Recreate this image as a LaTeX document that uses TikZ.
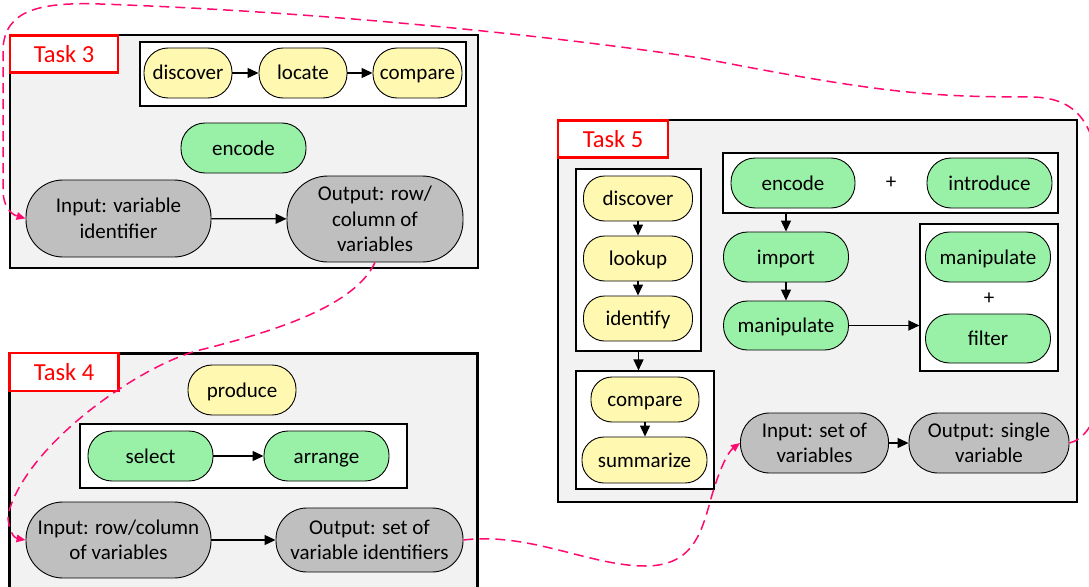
\documentclass[tikz,border=0pt]{standalone}
\usepackage{fontspec}
\setmainfont{Carlito}
\usetikzlibrary{arrows.meta}

\definecolor{boxgray}{RGB}{242,242,242}
\definecolor{taskred}{RGB}{255,0,0}
\definecolor{pillyellow}{RGB}{255,248,176}
\definecolor{pillgreen}{RGB}{153,240,167}
\definecolor{pillgray}{RGB}{191,191,191}
\definecolor{linkpink}{RGB}{255,10,110}

\newcommand\pillfont{\fontsize{21}{25.5}\selectfont}
\newcommand\tagfont{\fontsize{24.5}{28}\selectfont}
\newcommand\plusfont{\fontsize{21}{24}\selectfont}

\tikzset{
  taskbox/.style={draw=black, line width=2.4pt, fill=boxgray, inner sep=0pt},
  tasklabel/.style={draw=taskred, line width=2.2pt, fill=white, text=taskred, font=\tagfont, inner sep=0pt},
  groupbox/.style={draw=black, line width=1.1pt, fill=white, inner sep=0pt},
  pill/.style={draw=black, line width=0.9pt, inner sep=0pt, align=center, font=\pillfont},
  oneline/.style={text height=18pt, text depth=4pt},
  yel/.style={pill, oneline, fill=pillyellow},
  grn/.style={pill, oneline, fill=pillgreen},
  gry/.style={pill, fill=pillgray},
  sz/.style n args={3}{minimum width=#1pt, minimum height=#2pt, rounded corners=#3pt},
  flow/.style={-{Triangle[length=11pt,width=10pt]}, line width=1.2pt},
  link/.style={draw=linkpink, line width=1.5pt, dash pattern=on 10pt off 6pt,
               -{Triangle[length=9pt,width=7.5pt]}},
}

\begin{document}
\begin{tikzpicture}[x=1pt, y=-1pt]
\useasboundingbox (0,0) rectangle (1089,586);
\fill[white] (0,0) rectangle (1089,586);

% ---------- Task 3 ----------
\node[taskbox, minimum width=468pt, minimum height=233pt] (t3) at (244,151.5) {};
\node[tasklabel, minimum width=108pt, minimum height=37pt] (t3tag) at (64,54) {Task 3};
\node[groupbox, minimum width=326pt, minimum height=64pt] (t3grp) at (303,74) {};
\node[yel, sz={88}{50}{24}] (t3dis) at (188,73) {discover};
\node[yel, sz={88}{50}{24}] (t3loc) at (303,73) {locate};
\node[yel, sz={89}{50}{24}] (t3cmp) at (417.5,73) {compare};
\node[grn, sz={125}{50}{24}] (t3enc) at (243.5,148) {encode};
\node[gry, sz={185}{77}{37}] (t3in) at (118.5,218.5) {Input: variable\\identifier};
\node[gry, sz={176}{86}{41}] (t3out) at (375,219) {Output: row/\\column of\\variables};

\draw[flow] (t3dis) -- (t3loc);
\draw[flow] (t3loc) -- (t3cmp);
\draw[flow] (t3in) -- (t3out);

% ---------- Task 4 ----------
\node[taskbox, minimum width=468pt, minimum height=247pt] (t4) at (243.5,477) {};
\node[tasklabel, minimum width=109pt, minimum height=38pt] (t4tag) at (64,372) {Task 4};
\node[yel, sz={108}{50}{24}] (t4pro) at (242,390) {produce};
\node[groupbox, minimum width=327pt, minimum height=64pt] (t4grp) at (243.5,456) {};
\node[grn, sz={125}{50}{24}] (t4sel) at (150.5,456) {select};
\node[grn, sz={125}{50}{24}] (t4arr) at (326.5,456) {arrange};
\node[gry, sz={185}{76}{37}] (t4in) at (118.5,540) {Input: row/column\\of variables};
\node[gry, sz={187}{64}{31}] (t4out) at (369.5,540) {Output: set of\\variable identifiers};

\draw[flow] (t4sel) -- (t4arr);
\draw[flow] (t4in) -- (t4out);

% ---------- Task 5 ----------
\node[taskbox, minimum width=519pt, minimum height=382pt] (t5) at (817.5,311) {};
\node[tasklabel, minimum width=110pt, minimum height=37pt] (t5tag) at (613,139) {Task 5};

\node[groupbox, minimum width=125pt, minimum height=182pt] (t5ga) at (638.5,260) {};
\node[yel, sz={109}{45}{21}] (t5dis) at (638,198.5) {discover};
\node[yel, sz={109}{45}{21}] (t5look) at (638,258.5) {lookup};
\node[yel, sz={109}{45}{21}] (t5id) at (638,318.5) {identify};

\node[groupbox, minimum width=138pt, minimum height=118pt] (t5gb) at (645,430) {};
\node[yel, sz={108}{45}{21}] (t5cmp) at (645,399.5) {compare};
\node[yel, sz={125}{46}{22}] (t5sum) at (644.5,460) {summarize};

\node[groupbox, minimum width=335pt, minimum height=60pt] (t5gc) at (890.5,183) {};
\node[grn, sz={124}{50}{24}] (t5enc) at (793,183) {encode};
\node[font=\plusfont, inner sep=0pt] (t5plusa) at (891,183) {+};
\node[grn, sz={125}{50}{24}] (t5intro) at (989.5,183) {introduce};

\node[grn, sz={125}{50}{24}] (t5imp) at (786,257) {import};
\node[grn, sz={125}{49}{24}] (t5man) at (786,325.5) {manipulate};

\node[groupbox, minimum width=138pt, minimum height=147pt] (t5gd) at (989,297.5) {};
\node[grn, sz={125}{50}{24}] (t5mantwo) at (988,257) {manipulate};
\node[font=\plusfont, inner sep=0pt] (t5plusb) at (989,299) {+};
\node[grn, sz={125}{49}{24}] (t5fil) at (988,338.5) {filter};

\node[gry, sz={148}{60}{29}] (t5in) at (814.5,443) {Input: set of\\variables};
\node[gry, sz={160}{60}{29}] (t5out) at (989,443) {Output: single\\variable};

\draw[flow] (t5dis) -- (t5look);
\draw[flow] (t5look) -- (t5id);
\draw[flow] (t5ga.south) -- (t5ga.south |- t5gb.north);
\draw[flow] (t5cmp.south) -- (t5cmp.south |- t5sum.north);
\draw[flow] (t5imp.north |- t5gc.south) -- (t5imp.north);
\draw[flow] (t5imp) -- (t5man);
\draw[flow] (t5man.east) -- (t5man.east -| t5gd.west);
\draw[flow] (t5in) -- (t5out);

% ---------- links between tasks ----------
\draw[link] (t5out.east) .. controls (1082,440) and (1097,425) .. (1098,395)
  -- (1098,185) .. controls (1098,118) and (1072,97) .. (1030,97)
  .. controls (930,97) and (880,93) .. (700,58)
  .. controls (560,37) and (330,12) .. (100,4)
  .. controls (40,2) and (4,10) .. (3,50)
  -- (3,190) .. controls (3,205) and (10,214) .. (t3in.west);

\draw[link] (t3out.south) .. controls (355,305) and (280,330) .. (200,350)
  .. controls (140,365) and (25,445) .. (8,515)
  .. controls (8,530) and (14,538) .. (t4in.west);

\draw[link] (t4out.east) .. controls (530,532) and (590,566) .. (645,566)
  .. controls (695,566) and (702,530) .. (712,495)
  .. controls (720,468) and (728,452) .. (t5in.west);
\end{tikzpicture}
\end{document}
